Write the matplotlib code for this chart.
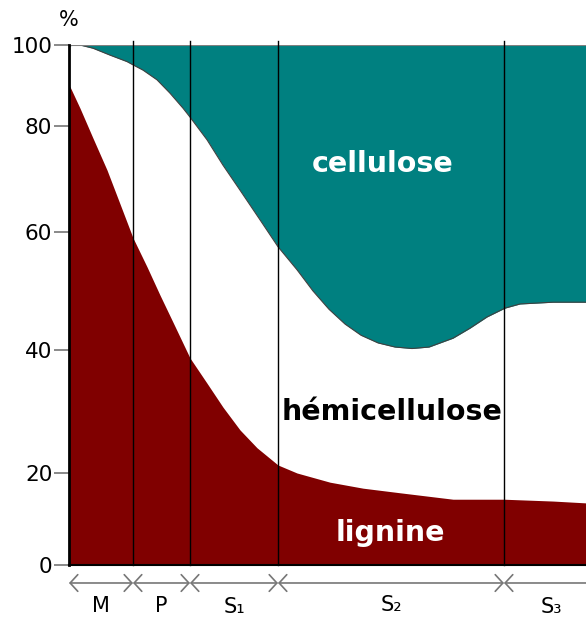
import numpy as np
import matplotlib
matplotlib.use('Agg')
import matplotlib.pyplot as plt

# y axis of the original is not linear: tick value -> height (px from bottom)
tick_vals = [0, 20, 40, 60, 80, 100]
tick_pos = [0, 92, 215, 333, 439, 520]

# cell wall layers: boundaries along the wall (arbitrary distance units)
layer_edges = [0, 64, 121, 209, 435, 529]
layer_names = ['M', 'P', 'S₁', 'S₂', 'S₃']
x_max = 517

# upper limit of hemicellulose (= lower limit of cellulose), %
hemi_x = [0, 3, 11, 24, 41, 58, 64, 74, 88, 101, 114, 121, 138, 154, 171,
          191, 209, 228, 244, 260, 276, 292, 309, 326, 343, 360, 384,
          401, 418, 436, 451, 484, 517]
hemi_top = [99.6, 100, 100, 99.2, 97.5, 95.9, 95.1, 93.8, 91.4, 88.1, 84.4,
            82.2, 77.4, 72.6, 67.9, 62.3, 57.5, 53.6, 50.0, 46.9, 44.4,
            42.5, 41.2, 40.5, 40.25, 40.5, 42.0, 43.7, 45.6, 47.1, 47.8, 48.1,
            48.1]

# upper limit of lignin, %
lig_x = [0, 1, 11, 24, 38, 51, 64, 78, 91, 104, 121, 138, 154, 171, 188,
         209, 228, 261, 294, 331, 384, 435, 484, 517]
lig_top = [90.0, 89.7, 84.4, 77.7, 71.7, 65.3, 59.0, 54.1, 49.3, 44.7, 38.7,
           34.6, 30.7, 27.0, 24.1, 21.3, 20.0, 18.0, 16.7, 15.7, 14.3, 14.3,
           13.9, 13.5]


def fwd(v):
    return np.interp(v, tick_vals, tick_pos)


def inv(p):
    return np.interp(p, tick_pos, tick_vals)


fig = plt.figure(figsize=(5.86, 6.17), dpi=100)
ax = fig.add_axes([69/586, 52/617, 517/586, 520/617])
ax.set_yscale('function', functions=(fwd, inv))

teal = '#008080'
maroon = '#800000'

ax.fill_between(hemi_x, hemi_top, 100, color=teal, lw=0, zorder=1)
ax.plot(hemi_x, hemi_top, color='#404040', lw=0.8, zorder=2)
ax.fill_between(lig_x, 0, lig_top, color=maroon, lw=0, zorder=1)
ax.axhline(100, color='#808080', lw=1.5, zorder=2)

for xb in layer_edges[1:-1]:
    ax.axvline(xb, ymin=0, ymax=1.008, color='black', lw=1, zorder=3, clip_on=False)

ax.set_xlim(0, x_max)
ax.set_ylim(0, 100)
ax.set_yticks(tick_vals)
ax.set_yticklabels([str(v) for v in tick_vals], fontsize=15.5)
ax.tick_params(axis='y', length=11, width=1.3, color='#808080', pad=1)
ax.set_xticks([])
for s in ['top', 'right']:
    ax.spines[s].set_visible(False)
ax.spines['left'].set_linewidth(2)
ax.spines['bottom'].set_linewidth(1.5)

ax.text(0, 1.048, '%', transform=ax.transAxes, ha='center', va='center', fontsize=15)

ax.text(0.606, 0.756, 'cellulose', transform=ax.transAxes, ha='center', va='baseline',
        fontsize=20.5, fontweight='bold', color='white', zorder=5)
ax.text(0.625, 0.279, 'hémicellulose', transform=ax.transAxes, ha='center', va='baseline',
        fontsize=20.5, fontweight='bold', color='black', zorder=5)
ax.text(0.622, 0.046, 'lignine', transform=ax.transAxes, ha='center', va='baseline',
        fontsize=20.5, fontweight='bold', color='white', zorder=5)

# layer arrows and names under the axis
trans = ax.get_xaxis_transform()
label_y = [-0.0904, -0.0904, -0.092, -0.0885, -0.093]
for i, name in enumerate(layer_names):
    x0, x1 = layer_edges[i], layer_edges[i+1]
    ax.annotate('', xy=(x1, -0.0346), xytext=(x0, -0.0346), xycoords=trans,
                textcoords=trans, annotation_clip=False,
                arrowprops=dict(arrowstyle='<->, head_length=0.55, head_width=0.6',
                                color='#777777', lw=1.2, shrinkA=0, shrinkB=0))
    xm = (x0 + x1) / 2
    if i == len(layer_names) - 1:
        xm = 482
    ax.text(xm, label_y[i], name, transform=trans, ha='center', va='baseline', fontsize=15)

plt.savefig('out.png', dpi=100)
